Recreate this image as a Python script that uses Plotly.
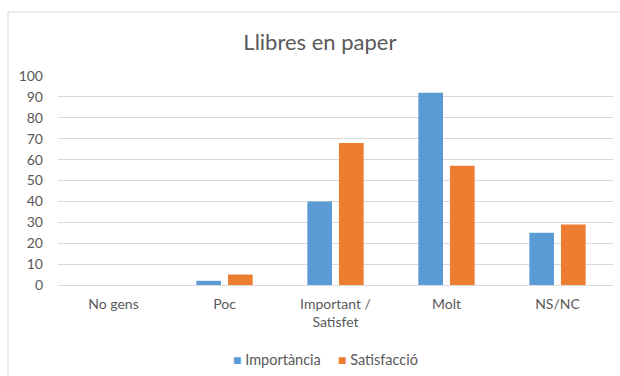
import plotly.graph_objects as go

categories = ["No gens", "Poc", "Important /<br>Satisfet", "Molt", "NS/NC"]
importancia = [0, 2, 40, 92, 25]
satisfaccio = [0, 5, 68, 57, 29]
y_ticks = list(range(0, 101, 10))
series_names = ["Importància", "Satisfacció"]
series_colors = ["#5B9BD5", "#ED7D31"]

FONT = "Lato"
TXT = "#595959"

fig = go.Figure()
for name, vals, col in zip(series_names, [importancia, satisfaccio], series_colors):
    fig.add_trace(go.Bar(name=name, x=categories, y=vals,
                         marker=dict(color=col, line=dict(width=0))))

fig.update_layout(
    width=620, height=376,
    margin=dict(l=58, r=7, t=76, b=91),
    paper_bgcolor="white", plot_bgcolor="white",
    barmode="group", bargap=0.43, bargroupgap=0.22,
    font=dict(family=FONT, size=14, color=TXT),
    title=dict(text="Llibres en paper", x=0.516, xref="container", xanchor="center",
               y=1 - 42 / 376, yref="container", yanchor="middle",
               font=dict(family=FONT, size=22, color=TXT)),
    showlegend=False,
)
fig.update_xaxes(showgrid=False, showline=False, ticks="", ticklabelstandoff=9,
                 tickfont=dict(size=14, color=TXT))
fig.update_yaxes(range=[0, 100], tickvals=y_ticks, showgrid=True, gridcolor="#d9d9d9",
                 gridwidth=1, zeroline=True, zerolinecolor="#d9d9d9", zerolinewidth=1,
                 showline=False, ticks="", ticklabelstandoff=14,
                 tickfont=dict(size=14, color=TXT))

# legend drawn as text entries
legend_left_px = [231, 336]
for name, col, px in zip(series_names, series_colors, legend_left_px):
    fig.add_annotation(text=f'<span style="color:{col};font-size:14px">■</span> {name}',
                       xref="paper", yref="paper",
                       x=(px - 58) / 555, y=(285 - 359) / 209,
                       xanchor="left", yanchor="middle", showarrow=False,
                       font=dict(family=FONT, size=14.5, color=TXT))

fig.add_shape(type="rect", xref="paper", yref="paper",
              x0=(8 - 58) / 555, x1=1.05, y0=-0.5, y1=(285 - 12) / 209,
              line=dict(color="#d9d9d9", width=1), fillcolor="rgba(0,0,0,0)", layer="below")

fig.write_html("out.html")
